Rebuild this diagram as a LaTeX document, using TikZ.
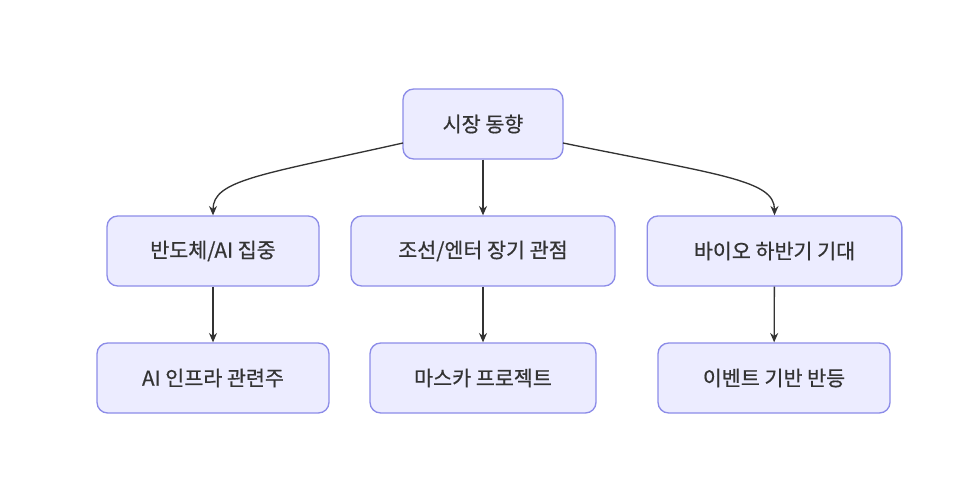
\documentclass[tikz,border=0pt]{standalone}
\usepackage{fontspec}
\setmainfont{Noto Sans CJK KR}[FakeBold=0.6]
\usetikzlibrary{arrows.meta}
\definecolor{nfill}{HTML}{ECECFF}
\definecolor{nline}{HTML}{8C8CE8}
\definecolor{eline}{HTML}{333333}
\begin{document}
\begin{tikzpicture}[x=0.75pt,y=-0.75pt,
  box/.style={draw=nline,fill=nfill,line width=1pt,rounded corners=8pt,minimum height=52.5pt,font=\fontsize{15.5}{18}\selectfont,text=eline,inner xsep=0pt},
  edge/.style={draw=eline,line width=1pt,-{Stealth[length=7pt,width=6pt]}}]
\useasboundingbox[fill=white] (0,0) rectangle (966,485);
\node[box,minimum width=120pt] (top) at (483,124) {시장 동향};
\node[box,minimum width=159pt] (a) at (213,251) {반도체/AI 집중};
\node[box,minimum width=198pt] (b) at (483,251) {조선/엔터 장기 관점};
\node[box,minimum width=191pt] (c) at (774.5,251) {바이오 하반기 기대};
\node[box,minimum width=174pt] (a2) at (213,378) {AI 인프라 관련주};
\node[box,minimum width=169.5pt] (b2) at (483,378) {마스카 프로젝트};
\node[box,minimum width=174pt] (c2) at (774,378) {이벤트 기반 반등};
\coordinate (tl) at (403,143);
\coordinate (tr) at (563,143);
\draw[edge] (tl) .. controls (260,175) and (213,180) .. (a.north);
\draw[edge] (tr) .. controls (720,175) and (774.5,180) .. (c.north);
\draw[edge] (top) -- (b);
\draw[edge] (a) -- (a2);
\draw[edge] (b) -- (b2);
\draw[edge] (c) -- (c2);
\end{tikzpicture}
\end{document}
